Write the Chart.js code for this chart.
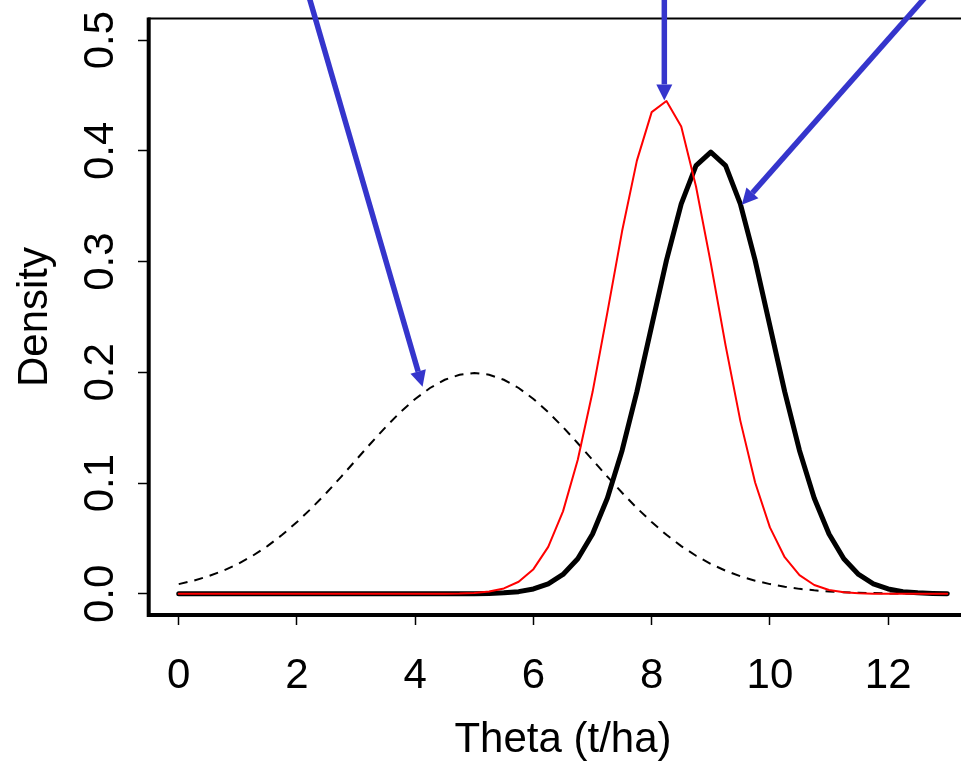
<!DOCTYPE html>
<html>
<head>
<meta charset="utf-8">
<script src="https://cdn.jsdelivr.net/npm/chart.js@4.4.0/dist/chart.umd.min.js"></script>
<style>
  html, body { margin: 0; padding: 0; background: #fff; overflow: hidden; }
  #wrap { width: 978px; height: 762px; }
</style>
</head>
<body>
<div id="wrap"><canvas id="chart" width="978" height="762"></canvas></div>
<script>
// 読み取った値 (theta は 0.25 刻み)
const THETA = [
  0, 0.25, 0.5, 0.75, 1, 1.25, 1.5, 1.75, 2, 2.25, 2.5, 2.75, 3, 3.25, 3.5, 3.75,
  4, 4.25, 4.5, 4.75, 5, 5.25, 5.5, 5.75, 6, 6.25, 6.5, 6.75, 7, 7.25, 7.5, 7.75,
  8, 8.25, 8.5, 8.75, 9, 9.25, 9.5, 9.75, 10, 10.25, 10.5, 10.75, 11, 11.25, 11.5, 11.75,
  12, 12.25, 12.5, 12.75, 13
];

// 破線 (prior)
const PRIOR = [
  0.0088, 0.0119, 0.0159, 0.0209, 0.0270, 0.0344, 0.0431, 0.0533, 0.0648, 0.0775, 0.0913, 0.1059, 0.1210, 0.1360, 0.1506, 0.1641,
  0.1760, 0.1859, 0.1933, 0.1979, 0.1995, 0.1979, 0.1933, 0.1859, 0.1760, 0.1641, 0.1506, 0.1360, 0.1210, 0.1059, 0.0913, 0.0775,
  0.0648, 0.0533, 0.0431, 0.0344, 0.0270, 0.0209, 0.0159, 0.0119, 0.0088, 0.0064, 0.0045, 0.0032, 0.0022, 0.0015, 0.0010, 0.0007,
  0.0004, 0.0003, 0.0002, 0.0001, 0.0001
];

// 赤線 (likelihood)
const LIKELIHOOD = [
  0, 0, 0, 0, 0, 0, 0, 0, 0, 0, 0, 0, 0, 0, 0, 0,
  0, 0, 0.0001, 0.0003, 0.0008, 0.0021, 0.0049, 0.0109, 0.0223, 0.0424, 0.0745, 0.1211, 0.1822, 0.2539, 0.3276, 0.3912,
  0.4350, 0.4450, 0.4220, 0.3678, 0.2986, 0.2244, 0.1562, 0.1006, 0.0600, 0.0331, 0.0169, 0.0080, 0.0035, 0.0014, 0.0005, 0.0002,
  0.0001, 0, 0, 0, 0
];

// 太線 (posterior)
const POSTERIOR = [
  0, 0, 0, 0, 0, 0, 0, 0, 0, 0, 0, 0, 0, 0, 0, 0,
  0, 0, 0, 0, 0.0001, 0.0004, 0.0009, 0.0020, 0.0044, 0.0091, 0.0175, 0.0317, 0.0540, 0.0863, 0.1295, 0.1826,
  0.2420, 0.3011, 0.3521, 0.3867, 0.3989, 0.3867, 0.3521, 0.3011, 0.2420, 0.1826, 0.1295, 0.0863, 0.0540, 0.0317, 0.0175, 0.0091,
  0.0044, 0.0020, 0.0009, 0.0004, 0.0001
];

const X_TICKS = [0, 2, 4, 6, 8, 10, 12];
const Y_TICKS = [0, 0.1, 0.2, 0.3, 0.4, 0.5];
const Y_TICK_LABELS = ['0.0', '0.1', '0.2', '0.3', '0.4', '0.5'];

// 矢印 (データ座標): 根元は画面外の上
const ARROW_TAILS = [[2.09, 0.56], [8.214, 0.56], [12.98, 0.56]];
const ARROW_TIPS = [[4.125, 0.187], [8.214, 0.4456], [9.525, 0.3513]];

const FONT_FAMILY = '"Liberation Sans", Arial, Helvetica, sans-serif';
const AXIS_FONT = { family: FONT_FAMILY, size: 42, lineHeight: 1 };
const ARROW_COLOR = '#3535CC';

function toPoints(ys) {
  return THETA.map((x, i) => ({ x, y: ys[i] }));
}

function drawArrow(ctx, x0, y0, x1, y1) {
  const ang = Math.atan2(y1 - y0, x1 - x0);
  const head = 16, half = 8;
  const bx = x1 - head * Math.cos(ang);
  const by = y1 - head * Math.sin(ang);
  ctx.beginPath();
  ctx.moveTo(x0, y0);
  ctx.lineTo(bx, by);
  ctx.stroke();
  ctx.beginPath();
  ctx.moveTo(x1, y1);
  ctx.lineTo(bx + half * Math.sin(ang), by - half * Math.cos(ang));
  ctx.lineTo(bx - half * Math.sin(ang), by + half * Math.cos(ang));
  ctx.closePath();
  ctx.fill();
}

// 枠線 (左・下は太く、上は細く)
const framePlugin = {
  id: 'frame',
  beforeDatasetsDraw(chart) {
    const { ctx, chartArea: a } = chart;
    ctx.save();
    ctx.strokeStyle = '#000';
    ctx.lineWidth = 2;
    ctx.beginPath();
    ctx.moveTo(a.left, a.top + 0.5);
    ctx.lineTo(a.right, a.top + 0.5);
    ctx.lineTo(a.right, a.bottom);
    ctx.stroke();
    ctx.lineWidth = 4;
    ctx.lineJoin = 'miter';
    ctx.beginPath();
    ctx.moveTo(a.left + 0.7, a.top - 0.5);
    ctx.lineTo(a.left + 0.7, a.bottom - 1);
    ctx.lineTo(a.right, a.bottom - 1);
    ctx.stroke();
    ctx.restore();
  }
};

const arrowPlugin = {
  id: 'arrows',
  afterDraw(chart) {
    const { ctx, scales: { x, y } } = chart;
    ctx.save();
    ctx.strokeStyle = ARROW_COLOR;
    ctx.fillStyle = ARROW_COLOR;
    ctx.lineWidth = 5.5;
    ctx.lineCap = 'butt';
    ARROW_TAILS.forEach((t, i) => {
      const tip = ARROW_TIPS[i];
      drawArrow(ctx,
        x.getPixelForValue(t[0]), y.getPixelForValue(t[1]),
        x.getPixelForValue(tip[0]), y.getPixelForValue(tip[1]));
    });
    ctx.restore();
  }
};

new Chart(document.getElementById('chart'), {
  type: 'line',
  data: {
    datasets: [
      {
        label: 'likelihood',
        data: toPoints(LIKELIHOOD),
        borderColor: '#FF0000',
        borderWidth: 2,
        borderCapStyle: 'round',
        borderJoinStyle: 'round',
        order: 0
      },
      {
        label: 'posterior',
        data: toPoints(POSTERIOR),
        borderColor: '#000000',
        borderWidth: 5,
        borderCapStyle: 'round',
        borderJoinStyle: 'round',
        order: 1
      },
      {
        label: 'prior',
        data: toPoints(PRIOR),
        borderColor: '#000000',
        borderWidth: 2,
        borderDash: [9, 7],
        order: 2
      }
    ]
  },
  options: {
    responsive: false,
    animation: false,
    devicePixelRatio: 1,
    layout: { padding: { top: 18, right: 0, bottom: 0, left: 0 } },
    elements: {
      line: { tension: 0, fill: false },
      point: { radius: 0, hoverRadius: 0 }
    },
    plugins: {
      legend: { display: false },
      tooltip: { enabled: false }
    },
    scales: {
      x: {
        type: 'linear',
        min: -0.52,
        max: 13.52,
        afterBuildTicks: s => { s.ticks = X_TICKS.map(v => ({ value: v })); },
        afterFit: s => { s.height = 146; s.paddingLeft = 0; s.paddingRight = 0; },
        grid: { drawOnChartArea: false, drawTicks: true, tickLength: 9, tickWidth: 1.5, tickColor: '#000' },
        border: { display: false },
        ticks: {
          autoSkip: false, minRotation: 0, maxRotation: 0, padding: 30,
          color: '#000', font: AXIS_FONT,
          callback: v => String(v)
        },
        title: {
          display: true, text: 'Theta (t/ha)', color: '#000', font: AXIS_FONT,
          padding: { top: 0, bottom: 1 }
        }
      },
      y: {
        type: 'linear',
        min: -0.02,
        max: 0.52,
        afterBuildTicks: s => { s.ticks = Y_TICKS.map(v => ({ value: v })); },
        afterFit: s => { s.width = 148; s.paddingTop = 0; s.paddingBottom = 0; },
        grid: { drawOnChartArea: false, drawTicks: true, tickLength: 10, tickWidth: 1.5, tickColor: '#000' },
        border: { display: false },
        ticks: {
          autoSkip: false, minRotation: 90, maxRotation: 90, crossAlign: 'center', padding: 7,
          color: '#000', font: AXIS_FONT,
          callback: (v, i) => Y_TICK_LABELS[i]
        },
        title: {
          display: true, text: 'Density', color: '#000', font: AXIS_FONT,
          padding: { top: 14, bottom: 0 }
        }
      }
    }
  },
  plugins: [framePlugin, arrowPlugin]
});
</script>
</body>
</html>
